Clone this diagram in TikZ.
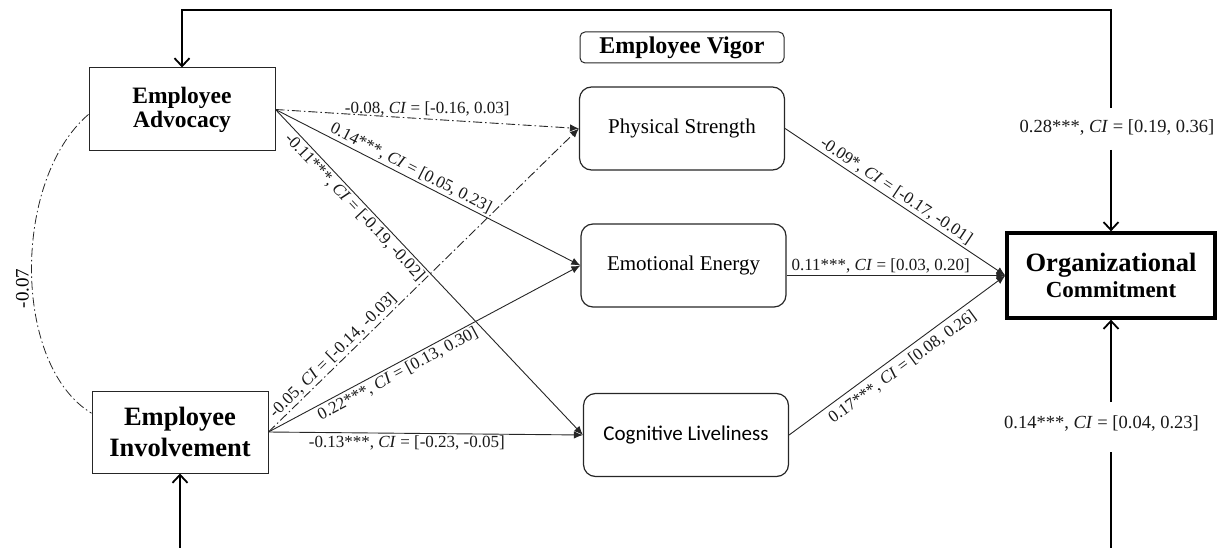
\documentclass[tikz,border=0pt]{standalone}
\usepackage{fontspec}
\setmainfont{Liberation Serif}
\newfontfamily\calfont{Carlito}
\usetikzlibrary{arrows.meta}
\begin{document}
\begin{tikzpicture}[x=1pt,y=-1pt,
  latent/.style={draw=black!85, line width=1pt, inner sep=0pt, align=center},
  vigor/.style={draw=black!85, line width=1.2pt, rounded corners=12pt, minimum width=205pt, minimum height=83pt, inner sep=0pt, font=\fontsize{21}{25}\selectfont},
  pathline/.style={line width=0.9pt, draw=black!85, -{Latex[length=9pt,width=7.5pt]}},
  nspath/.style={pathline, dash pattern=on 9pt off 3pt on 1.5pt off 3pt},
  outerline/.style={line width=1.8pt, draw=black, -{Straight Barb[length=8pt,width=15pt,line width=1.8pt]}},
  lab/.style={font=\fontsize{17}{20}\selectfont, inner sep=2pt, text=black!90},
  biglab/.style={font=\fontsize{18.5}{22}\selectfont, inner sep=2pt, text=black!90},
]
\useasboundingbox (0,0) rectangle (1225,548);

% nodes
\node[latent, minimum width=186pt, minimum height=83pt, font=\bfseries\fontsize{23.5}{24}\selectfont] (EA) at (182,109.5) {Employee\\Advocacy};
\node[latent, minimum width=176pt, minimum height=82pt, font=\bfseries\fontsize{26.5}{31}\selectfont] (EI) at (180,432) {Employee\\Involvement};
\node[draw=black!85, line width=1pt, rounded corners=5pt, minimum width=204pt, minimum height=31pt, inner sep=0pt, font=\bfseries\fontsize{24}{26}\selectfont] (EV) at (682,47.5) {Employee Vigor};
\node[vigor] (PS) at (682,128.5) {Physical Strength};
\node[vigor] (EE) at (683.5,265.5) {Emotional Energy};
\node[vigor, font=\calfont\fontsize{21}{25}\selectfont] (CL) at (686,435) {Cognitive Liveliness};
\node[draw=black, line width=3.3pt, minimum width=208pt, minimum height=85pt, inner sep=0pt, align=center, font=\bfseries] (OC) at (1111,275.5) {\fontsize{26.5}{30}\selectfont Organizational\\[3pt]\fontsize{23}{30}\selectfont Commitment};

% label nodes and coordinates for outer paths
\node[biglab] (L1) at (1117,128) {0.28***, \textit{CI} = [0.19, 0.36]};
\node[biglab] (L2) at (1101.5,424) {0.14***, \textit{CI} = [0.04, 0.23]};
\coordinate (top) at (1111,10);
\coordinate (g1a) at (1111,108);
\coordinate (g1b) at (1111,150);
\coordinate (g2a) at (1111,402);
\coordinate (g2b) at (1111,452);
\coordinate (b1) at (1111,548);

% outer paths
\draw[outerline] (g1a) -- (top) -| (EA.north);
\draw[outerline] (g1b) -- (OC.north);
\draw[outerline] (g2a) -- (OC.south);
\draw[line width=1.8pt] (b1) -- (g2b);
\draw[outerline] (EI.south |- b1) -- (EI.south);

% correlation
\draw[line width=0.8pt, draw=black!85, dash pattern=on 9pt off 3pt on 1.5pt off 3pt]
  (EA.183) .. controls (12,180) and (12,365) .. node[pos=0.55, rotate=90, above=1pt, font=\fontsize{19}{22}\selectfont, inner sep=2pt] {-0.07} (EI.168);

% structural paths
\draw[nspath] (EA.east) -- node[lab, above, pos=0.5] {-0.08, \textit{CI} = [-0.16, 0.03]} (PS.west);
\draw[pathline] (EA.east) -- node[lab, above, sloped, pos=0.43] {0.14***, \textit{CI} = [0.05, 0.23]} (EE.west);
\draw[pathline] (EA.east) -- node[lab, below, sloped, pos=0.28] {-0.11***, \textit{CI} = [-0.19, -0.02]} (CL.west);
\draw[nspath] (EI.east) -- node[lab, above, sloped, pos=0.23] {-0.05, \textit{CI} = [-0.14, -0.03]} (PS.west);
\draw[pathline] (EI.east) -- node[lab, below, sloped, pos=0.4] {0.22***, \textit{CI} = [0.13, 0.30]} (EE.west);
\draw[pathline] (EI.east) -- node[lab, below, pos=0.44] {-0.13***, \textit{CI} = [-0.23, -0.05]} (CL.west);
\draw[pathline] (PS.east) -- node[lab, above, sloped, pos=0.48] {-0.09*, \textit{CI} = [-0.17, -0.01]} (OC.west);
\draw[pathline] (EE.east |- OC.west) -- node[lab, above, pos=0.43] {0.11***, \textit{CI} = [0.03, 0.20]} (OC.west);
\draw[pathline] (CL.east) -- node[lab, below=3pt, sloped, pos=0.49] {0.17***, \textit{CI} = [0.08, 0.26]} (OC.west);
\end{tikzpicture}
\end{document}
